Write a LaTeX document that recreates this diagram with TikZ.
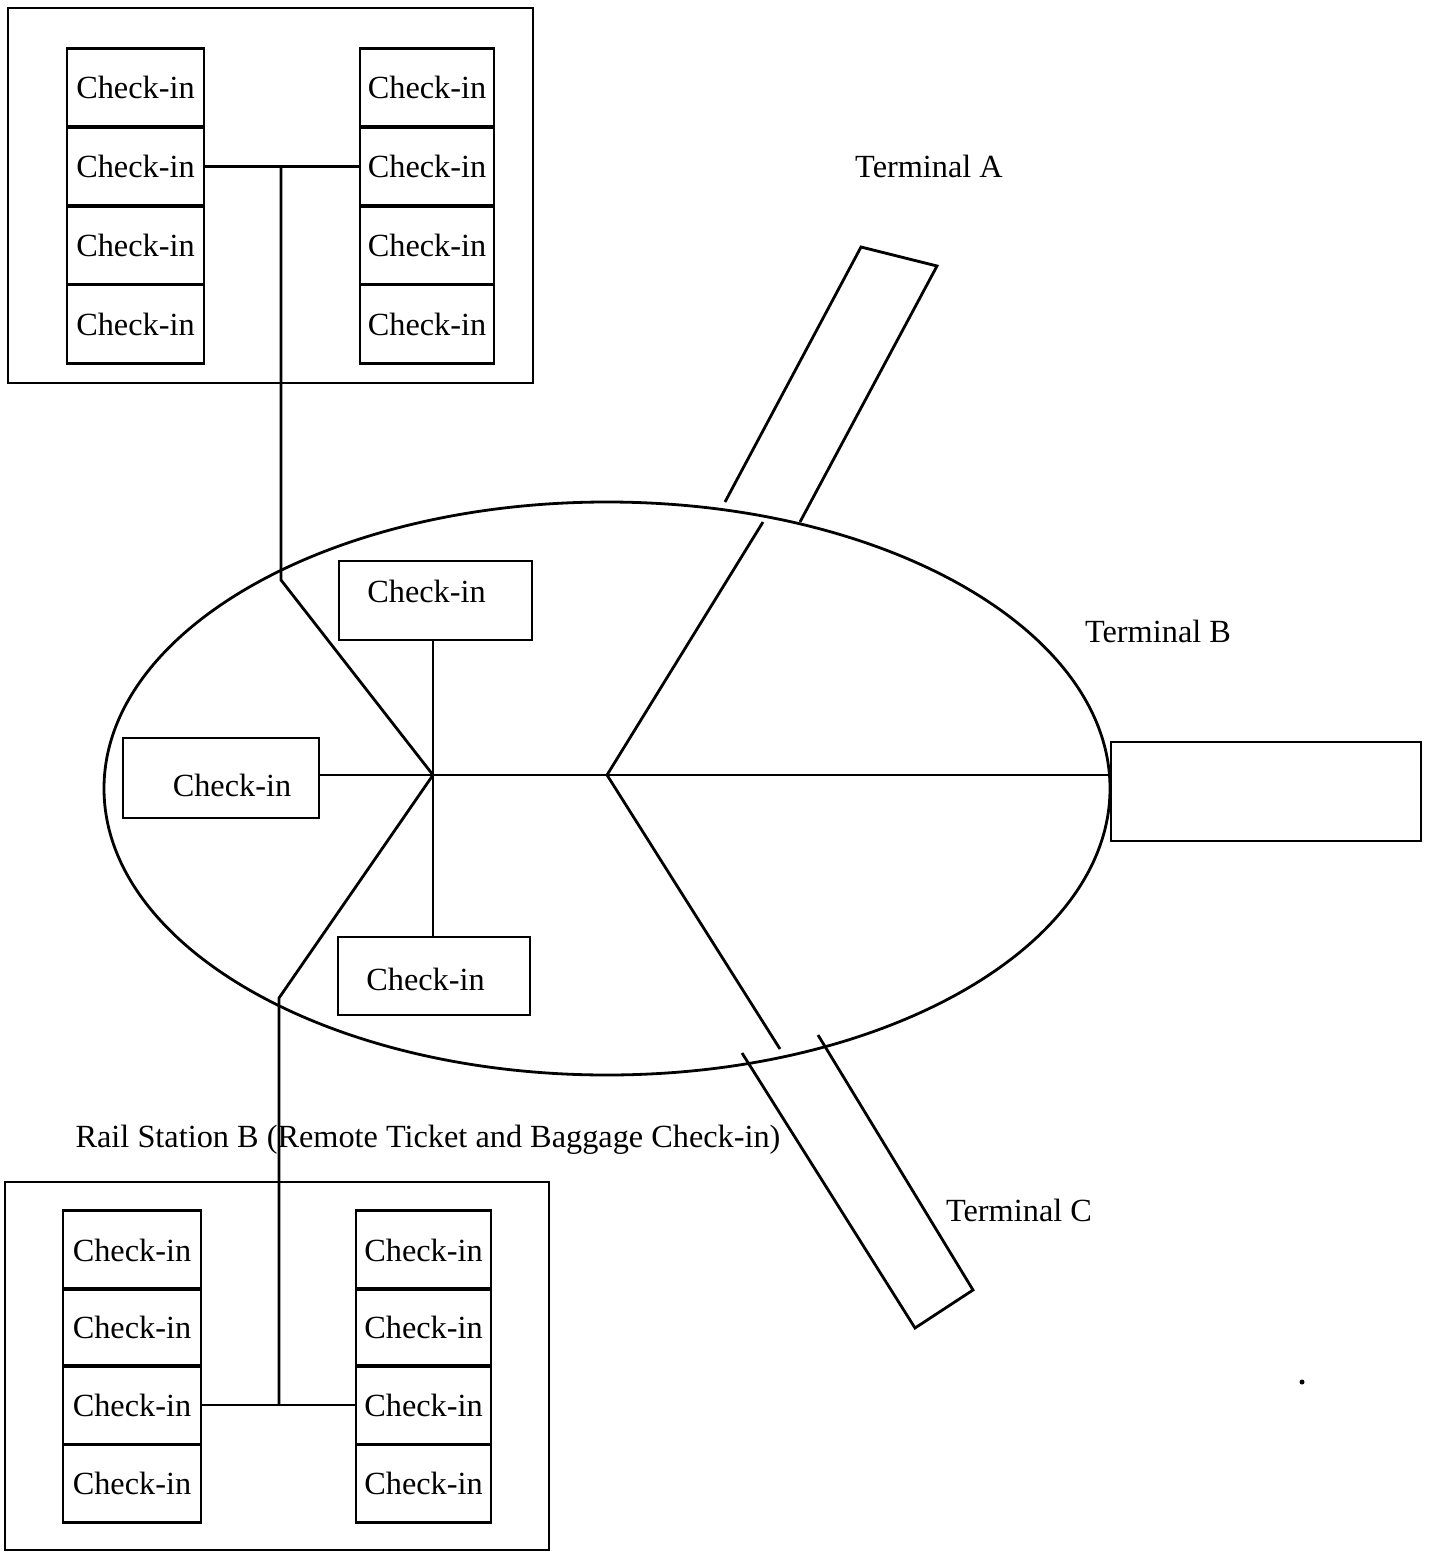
\documentclass[tikz,border=0pt]{standalone}
\usepackage{fontspec}
\setmainfont{Liberation Serif}
\usetikzlibrary{shapes.geometric}
\begin{document}
\begin{tikzpicture}[x=1pt,y=-1pt,line width=2.8pt,
  every node/.style={font=\fontsize{32.3}{38}\selectfont},
  cell/.style={draw,rectangle,inner sep=0pt,minimum height=78.5pt},
  cellL/.style={cell,minimum width=137pt},
  cellR/.style={cell,minimum width=134pt},
  box/.style={draw,rectangle,inner sep=0pt},
  lbl/.style={anchor=base,inner sep=0pt}]
\useasboundingbox (0,0) rectangle (1431,1552);

% ---- top check-in hall ----
\node[box,minimum width=525pt,minimum height=375pt] (topframe) at (270.5,195.5) {};
\foreach \i/\y in {1/87.5,2/166.5,3/245.5,4/324}{
  \node[cellL] (TL\i) at (135.5,\y) {Check-in};
  \node[cellR] (TR\i) at (427,\y) {Check-in};
}
% ---- bottom check-in hall ----
\node[box,minimum width=544pt,minimum height=368pt] (botframe) at (277,1366) {};
\foreach \i/\y in {1/1250,2/1327.5,3/1405,4/1483.5}{
  \node[cellL,minimum width=138pt] (BL\i) at (132,\y) {Check-in};
  \node[cellR,minimum width=135pt] (BR\i) at (423.5,\y) {Check-in};
}
\node[lbl] (rail) at (428,1147) {Rail Station B (Remote Ticket and Baggage Check-in)};

% ---- central ellipse ----
\node[draw,ellipse,inner sep=0pt,minimum width=1006pt,minimum height=573pt] (hall) at (607,788.5) {};
\node[box,minimum width=193pt,minimum height=79pt] (ctop) at (435.5,600.5) {};
\node[lbl] (ttop) at (426.5,602) {Check-in};
\node[box,minimum width=196pt,minimum height=80pt] (cleft) at (221,778) {};
\node[lbl] (tleft) at (232,796) {Check-in};
\node[box,minimum width=192pt,minimum height=78pt] (cbot) at (434,976) {};
\node[lbl] (tbot) at (425.5,990) {Check-in};

% ---- terminals ----
\node[box,minimum width=310pt,minimum height=99pt] (tb) at (1266,791.5) {};
\node[lbl] (labA) at (929,177) {Terminal A};
\node[lbl] (labB) at (1158,642) {Terminal B};
\node[lbl] (labC) at (1019,1221) {Terminal C};

\coordinate (a1) at (725,502);
\coordinate (a2) at (861,247);
\coordinate (a3) at (937,266);
\coordinate (a4) at (800,522);
\draw (a1) -- (a2) -- (a3) -- (a4);
\coordinate (c1) at (742,1053);
\coordinate (c2) at (915,1328);
\coordinate (c3) at (973,1290);
\coordinate (c4) at (818,1035);
\draw (c1) -- (c2) -- (c3) -- (c4);

% ---- connectors ----
\coordinate (hub) at (433,775);
\coordinate (j2) at (607,775);
\coordinate (jt) at (281,166.5);
\coordinate (kt) at (281,580);
\coordinate (kb) at (279,998);
\coordinate (jb) at (279,1405);
\coordinate (ta) at (763,522);
\coordinate (tc) at (780,1049);

\draw (TL2.east) -- (TR2.west);
\draw (jt) -- (kt) -- (hub);
\draw (hub) -- (kb) -- (jb);
\draw (BL3.east) -- (BR3.west);
\draw (hub |- ctop.south) -- (hub);
\draw (hub) -- (hub |- cbot.north);
\draw (cleft.east |- hub) -- (hub) -- (j2) -- (tb.west |- hub);
\draw (j2) -- (ta);
\draw (j2) -- (tc);

\fill (1302,1382) circle (2.5pt);
\end{tikzpicture}
\end{document}
